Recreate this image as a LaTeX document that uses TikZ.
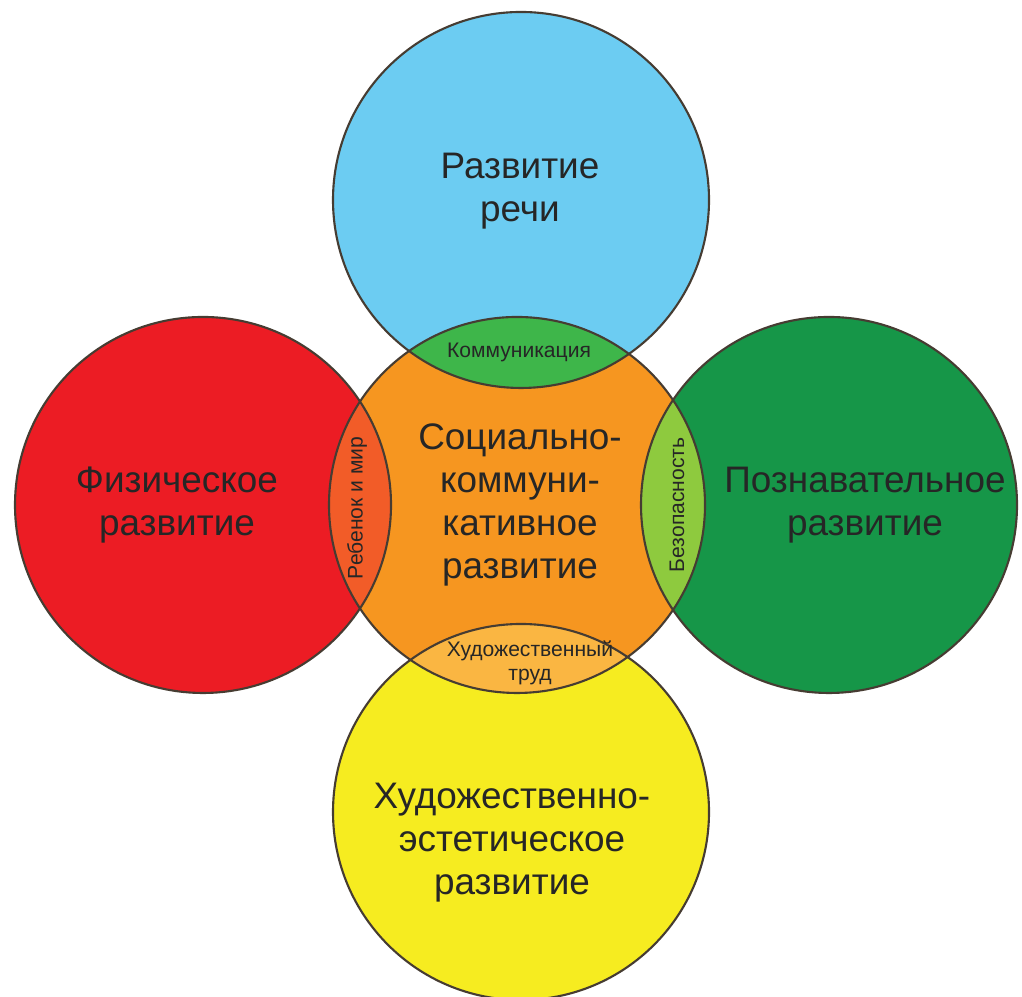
\documentclass[tikz,border=0pt]{standalone}
\usepackage{fontspec}
\setmainfont{Liberation Sans}
\definecolor{speechblue}{RGB}{108,204,242}
\definecolor{physred}{RGB}{236,28,36}
\definecolor{cognigreen}{RGB}{22,150,72}
\definecolor{artyellow}{RGB}{246,236,32}
\definecolor{socorange}{RGB}{246,150,32}
\definecolor{lenstop}{RGB}{62,182,74}
\definecolor{lensleft}{RGB}{242,92,40}
\definecolor{lensright}{RGB}{142,202,62}
\definecolor{lensbottom}{RGB}{250,182,66}
\definecolor{rimgray}{RGB}{70,60,50}
\begin{document}
\begin{tikzpicture}[area/.style = {circle, minimum size=3.76cm, inner sep=0pt},
    big/.style = {align=center, text=black!85, font=\fontsize{10.5}{12.2}\selectfont},
    small/.style = {align=center, text=black!85, font=\fontsize{6}{7}\selectfont, inner sep=0pt}]
        \def\r{1.88}
        \useasboundingbox (0,0) rectangle (10.22,9.97);
        \clip (0,0) rectangle (10.22,9.97);
        % circles
        \node[area, fill=speechblue] (speech) at (5.21,7.97) {};
        \node[area, fill=physred] (phys) at (2.03,4.92) {};
        \node[area, fill=cognigreen] (cogni) at (8.29,4.92) {};
        \node[area, fill=artyellow] (art) at (5.21,1.85) {};
        \node[area, fill=socorange] (soc) at (5.17,4.92) {};
        % overlaps
        \begin{scope}
            \clip (soc.center) circle (\r);
            \fill[lenstop] (speech.center) circle (\r);
            \fill[lensleft] (phys.center) circle (\r);
            \fill[lensright] (cogni.center) circle (\r);
            \fill[lensbottom] (art.center) circle (\r);
        \end{scope}
        % rims
        \foreach \c in {speech, phys, cogni, art, soc}
            \draw[rimgray, line width=0.6pt] (\c.center) circle (\r);
        % labels
        \node[big] (speechtxt) at (5.20,8.06) {Развитие\\речи};
        \node[big] (phystxt) at (1.77,4.92) {Физическое\\развитие};
        \node[big] (cognitxt) at (8.65,4.92) {Познавательное\\развитие};
        \node[big] (soctxt) at (5.20,4.92) {Социально-\\коммуни-\\кативное\\развитие};
        \node[big] (arttxt) at (5.12,1.54) {Художественно-\\эстетическое\\развитие};
        \node[small] (commtxt) at (5.19,6.45) {Коммуникация};
        \node[small, rotate=90] (worldtxt) at (3.57,4.89) {Ребенок и мир};
        \node[small, rotate=90] (safetxt) at (6.77,4.92) {Безопасность};
        \node[small] (worktxt) at (5.30,3.34) {Художественный\\труд};
    \end{tikzpicture}
\end{document}
